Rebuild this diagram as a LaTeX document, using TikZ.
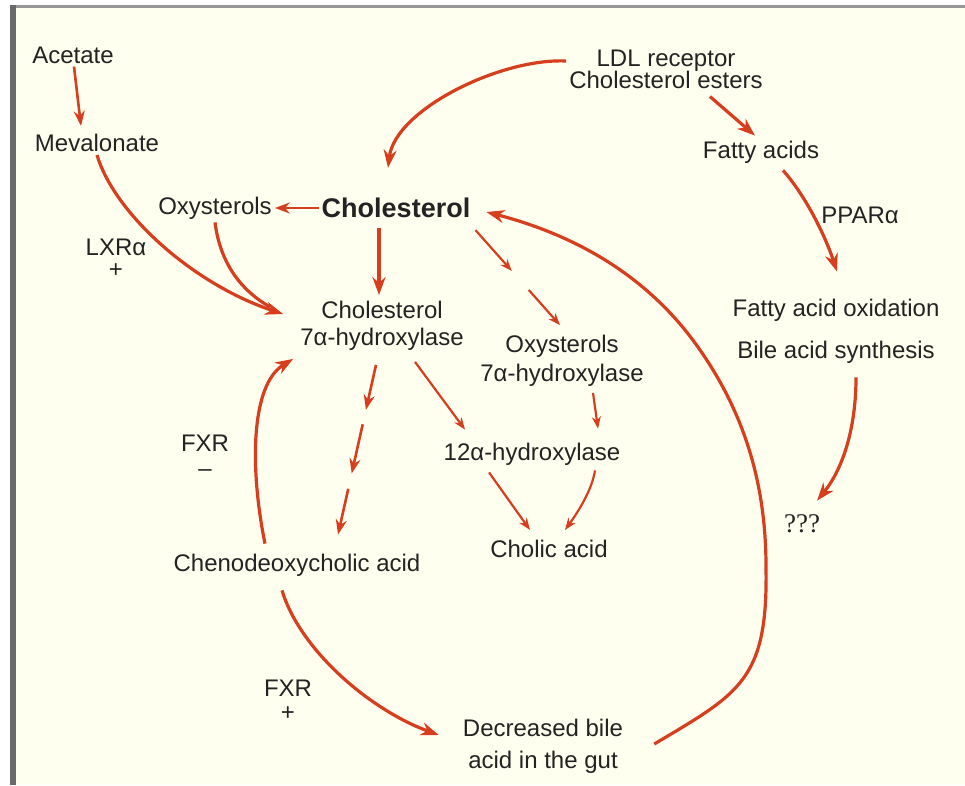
\documentclass[tikz,border=0pt]{standalone}
\usepackage{fontspec}
\setmainfont{Liberation Sans}
\newfontfamily\qfont{Liberation Serif}
\usetikzlibrary{arrows.meta,calc}
\definecolor{cream}{RGB}{255,255,240}
\definecolor{rd}{RGB}{214,62,30}
\definecolor{txt}{RGB}{35,35,35}
\definecolor{bordtop}{RGB}{150,150,150}
\definecolor{bordleft}{RGB}{105,105,105}
\begin{document}
\begin{tikzpicture}[x=1pt,y=-1pt,
  lbl/.style={font=\fontsize{24}{27}\selectfont, text=txt, inner sep=3pt, align=center},
  arr/.style={draw=rd, line width=3.2pt, -{Stealth[length=18pt,width=13pt]}},
  marr/.style={draw=rd, line width=2.6pt, -{Stealth[length=15pt,width=11pt]}},
  tarr/.style={draw=rd, line width=2.2pt, -{Stealth[length=12pt,width=9pt]}},
  mline/.style={draw=rd, line width=3.2pt}]
\useasboundingbox (0,0) rectangle (965,785);
% background and frame
\fill[white] (0,0) rectangle (965,785);
\fill[cream] (16,8) rectangle (965,785);
\fill[bordtop] (10,5) rectangle (965,8);
\fill[bordleft] (10,5) rectangle (16,785);

% nodes
\node[lbl] (acet) at (73,55) {Acetate};
\node[lbl] (meva) at (97,143) {Mevalonate};
\node[lbl] (oxyL) at (215,208) {Oxysterols};
\node[lbl, font=\fontsize{27}{30}\selectfont\bfseries] (chol) at (396,208) {Cholesterol};
\node[lbl] (ldl) at (666,69) {LDL receptor\\[-5pt]Cholesterol esters};
\node[lbl] (fatty) at (761,152) {Fatty acids};
\node[lbl] (ppar) at (860,215) {PPARα};
\node[lbl] (fao) at (836,331) {Fatty acid oxidation\\[15pt]Bile acid synthesis};
\node[lbl, font=\fontsize{27}{29}\selectfont\qfont] (qqq) at (802,524) {???};
\node[lbl] (lxr) at (116,258) {LXRα\\[-5pt]+};
\node[lbl] (c7a) at (382,326) {Cholesterol\\7α-hydroxylase};
\node[lbl] (o7a) at (562,361) {Oxysterols\\[2pt]7α-hydroxylase};
\node[lbl] (h12) at (532,454) {12α-hydroxylase};
\node[lbl] (fxrA) at (205,456) {FXR\\[-2pt]\textendash};
\node[lbl] (cdca) at (297,565) {Chenodeoxycholic acid};
\node[lbl] (cholic) at (549,549) {Cholic acid};
\node[lbl] (fxrB) at (288,700) {FXR\\[-3pt]+};
\node[lbl] (dec) at (543,746) {Decreased bile\\[5pt]acid in the gut};

% connectors
\draw[marr] ([xshift=1pt]acet.south) -- ([xshift=-16pt,yshift=5pt]meva.north);
\draw[arr] (meva.south) .. controls (115,215) and (195,285) .. ([xshift=-14pt,yshift=12pt]c7a.west);
\draw[mline] (oxyL.south) .. controls (220,262) and (240,290) .. ([xshift=-27pt,yshift=19pt]c7a.west);
\draw[marr] (chol.west) -- (oxyL.east);
\draw[arr] ([yshift=8pt]ldl.west) .. controls (500,58) and (395,110) .. ([xshift=-8pt,yshift=27pt]chol.north);
\draw[arr] ([xshift=44pt,yshift=-5pt]ldl.south) -- ([xshift=-6pt,yshift=2pt]fatty.north);
\draw[arr] ([xshift=22pt,yshift=-4pt]fatty.south) .. controls (805,195) and (825,235) .. ([xshift=1pt,yshift=24pt]fao.north);
\draw[arr] ([xshift=20pt,yshift=-11pt]fao.south) .. controls (856,430) and (842,470) .. ([xshift=15pt,yshift=11pt]qqq.north);
\draw[arr] ([xshift=-17pt,yshift=-7pt]chol.south) -- ([xshift=-3pt,yshift=3pt]c7a.north);

% Cholesterol -> Oxysterols 7a (broken)
\coordinate (d0) at ([xshift=2pt,yshift=-9pt]chol.south east);
\coordinate (d3) at ([xshift=-2pt,yshift=7pt]o7a.north);
\draw[tarr] (d0) -- ($(d0)!0.43!(d3)$);
\draw[tarr] ($(d0)!0.63!(d3)$) -- (d3);

% Cholesterol 7a -> Chenodeoxycholic (broken)
\coordinate (e0) at ([xshift=-6pt,yshift=-11pt]c7a.south);
\coordinate (e3) at ([xshift=41pt,yshift=16pt]cdca.north);
\draw[marr] (e0) -- ($(e0)!0.265!(e3)$);
\draw[marr] ($(e0)!0.35!(e3)$) -- ($(e0)!0.64!(e3)$);
\draw[marr] ($(e0)!0.73!(e3)$) -- (e3);

\draw[tarr] ([xshift=33pt,yshift=-8pt]c7a.south) -- ([xshift=-67pt,yshift=10pt]h12.north);
\draw[tarr] ([xshift=31pt,yshift=-3pt]o7a.south) -- ([xshift=66pt,yshift=11pt]h12.north);
\draw[tarr] ([xshift=-43pt,yshift=-4pt]h12.south) -- ([xshift=-19pt,yshift=7pt]cholic.north);
\draw[tarr] ([xshift=63pt,yshift=-2pt]h12.south) .. controls (592,490) and (578,512) .. ([xshift=16pt,yshift=7pt]cholic.north);

\draw[arr] ([xshift=-32pt,yshift=7pt]cdca.north) .. controls (250,470) and (250,385) .. ([xshift=-4pt,yshift=-5pt]c7a.south west);
\draw[arr] ([xshift=-15pt,yshift=-11pt]cdca.south) .. controls (300,650) and (370,710) .. ([xshift=-21pt,yshift=11pt]dec.west);
\draw[arr] ([xshift=28pt,yshift=2pt]dec.east) .. controls (740,693) and (768,680) .. (766,567)
   .. controls (766,487) and (746,416) .. (700,350)
   .. controls (649,276) and (575,235) .. ([xshift=13pt,yshift=-4pt]chol.east);
\end{tikzpicture}
\end{document}
